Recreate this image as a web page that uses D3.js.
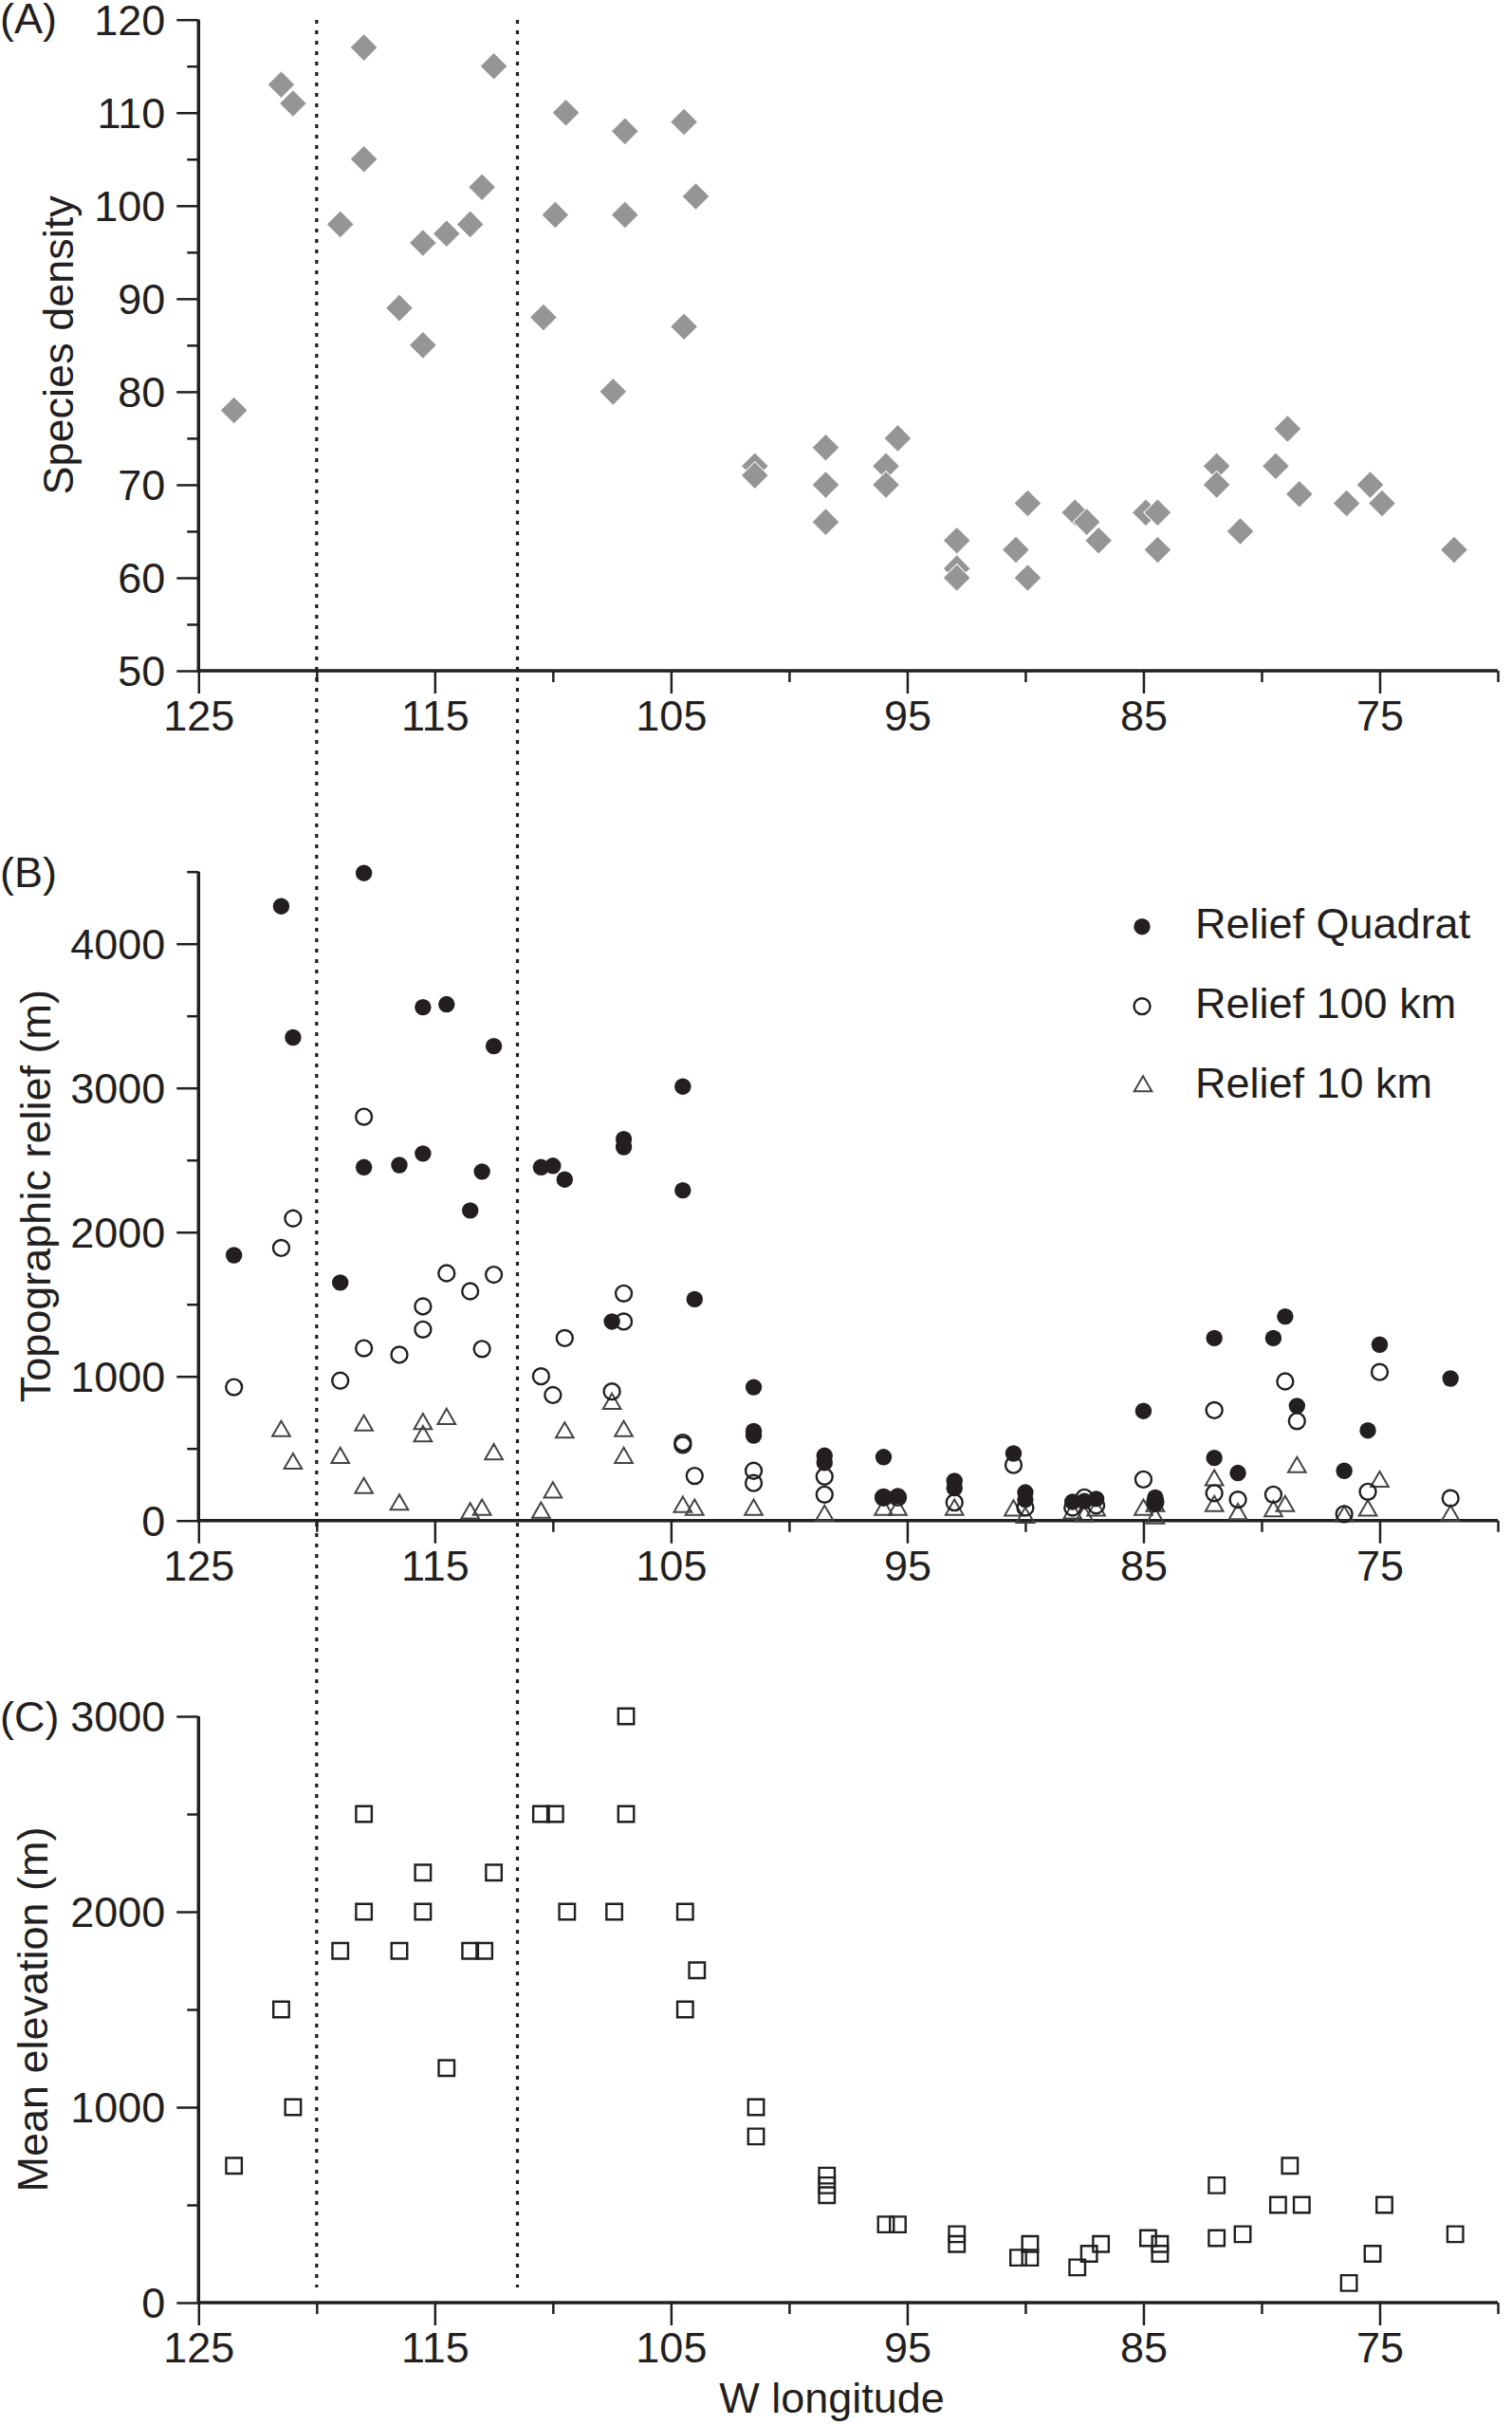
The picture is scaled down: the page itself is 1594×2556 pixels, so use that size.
<!DOCTYPE html>
<html>
<head>
<meta charset="utf-8">
<script src="https://cdn.jsdelivr.net/npm/d3@7"></script>
<style>
  body { margin: 0; background: #fff; }
  svg { display: block; }
  text { font-family: "Liberation Sans", Arial, Helvetica, sans-serif; }
</style>
</head>
<body>
<svg id="chart" width="1594" height="2556"></svg>
<script>
// ---------------- DATA ----------------
// Panel A: species density  [W longitude, value]
const speciesDensity = [
  [123.5,78],[121.5,113],[121,111],[118,117],[118,105],[119,98],[116.5,89],[115.5,85],[115.5,96],
  [114.5,97],[113.5,98],[113,102],[112.5,115],[110.4,88],[109.9,99],[109.45,110],[107.45,80],
  [106.95,108],[106.95,99],[104.45,109],[103.95,101],[104.45,87],[101.45,72],[101.45,71],
  [98.45,74],[98.45,70],[98.45,66],[95.9,72],[95.9,70],[95.4,75],[92.9,64],[92.9,61],[92.9,60],
  [90.4,63],[89.9,68],[89.9,60],[87.9,67],[87.4,66],[86.9,64],[84.9,67],[84.4,67],[84.4,63],
  [81.9,72],[81.9,70],[80.9,65],[79.4,72],[78.9,76],[78.4,69],[76.4,68],[75.4,70],[74.9,68],[71.85,63]
];
// Panel B: topographic relief (m)
const reliefQuadrat = [
  [123.5,1840],[121.5,4260],[121,3350],[118,4490],[118,2450],[119,1650],[116.5,2465],[115.5,3560],
  [115.5,2545],[114.5,3580],[113.5,2150],[113,2420],[112.5,3290],[110.5,2450],[110,2460],[109.5,2365],
  [107.5,1380],[107,2645],[107,2590],[104.5,3010],[104.5,2290],[104,1535],[101.5,925],[101.5,620],
  [101.5,590],[98.5,450],[98.5,400],[96,440],[96,160],[95.4,170],[93,275],[93,225],[90.5,465],
  [90,195],[90,145],[88,130],[87.5,135],[87,150],[85,760],[84.5,160],[84.5,115],[82,1265],[82,435],
  [81,330],[79.5,1265],[79,1415],[78.5,795],[76.5,345],[75.5,625],[75,1220],[72,985]
];
const relief100km = [
  [123.5,925],[121.5,1890],[121,2095],[118,2800],[118,1195],[119,970],[116.5,1150],[115.5,1485],
  [115.5,1325],[114.5,1715],[113.5,1590],[113,1190],[112.5,1705],[110.5,1000],[110,870],[109.5,1265],
  [107.5,895],[107,1575],[107,1380],[104.5,540],[104.5,525],[104,310],[101.5,345],[101.5,260],
  [98.5,305],[98.5,180],[96,160],[95.4,160],[93,125],[90.5,385],[90,90],[88,90],[87.5,160],[87,105],
  [85,285],[84.5,130],[82,765],[82,190],[81,145],[79.5,180],[79,965],[78.5,690],[76.5,45],[75.5,200],
  [75,1030],[72,155]
];
const relief10km = [
  [121.5,620],[121,395],[118,660],[118,225],[119,435],[116.5,110],[115.5,670],[115.5,585],[114.5,705],
  [113.5,50],[113,75],[112.5,460],[110.5,55],[110,195],[109.5,610],[107.5,810],[107,620],[107,435],
  [104.5,95],[104,75],[101.5,75],[98.5,35],[96,75],[95.4,75],[93,75],[90.5,70],[90,20],[88,50],
  [87.5,30],[87,70],[85,75],[84.5,100],[84.5,15],[82,280],[82,100],[81,45],[79.5,65],[79,100],
  [78.5,370],[76.5,30],[75.5,70],[75,270],[72,35]
];
// Panel C: mean elevation (m)
const meanElevation = [
  [123.5,700],[121.5,1500],[121,1000],[118,2500],[118,2000],[119,1800],[116.5,1800],[115.5,2200],
  [115.5,2000],[114.5,1200],[113.5,1800],[112.9,1800],[112.5,2200],[110.5,2500],[109.9,2500],
  [109.4,2000],[107.4,2000],[106.9,3000],[106.9,2500],[104.4,2000],[104.4,1500],[103.9,1700],
  [101.4,1000],[101.4,850],[98.4,650],[98.4,600],[98.4,550],[95.9,400],[95.4,400],[92.9,350],
  [92.9,300],[90.3,230],[89.8,300],[89.8,230],[87.8,180],[87.3,250],[86.8,300],[84.8,330],[84.3,300],
  [84.3,250],[81.9,600],[81.9,330],[80.8,350],[79.3,500],[78.8,700],[78.3,500],[76.3,100],[75.3,250],
  [74.8,500],[71.8,350]
];
// Ticks / labels
const xMajorTicks = [125,115,105,95,85,75];
const xMinorTicks = [120,110,100,90,80,70];
const aMajorTicks = [50,60,70,80,90,100,110,120];
const aMinorTicks = [55,65,75,85,95,105,115];
const bMajorTicks = [0,1000,2000,3000,4000];
const bMinorTicks = [500,1500,2500,3500,4500];
const cMajorTicks = [0,1000,2000,3000];
const cMinorTicks = [500,1500,2500];
const dividerLongitudes = [120,111.5];
const legendLabels = ["Relief Quadrat","Relief 100 km","Relief 10 km"];
const panelLabels = ["(A)","(B)","(C)"];
const yTitles = ["Species density","Topographic relief (m)","Mean elevation (m)"];
const xTitle = "W longitude";

// ---------------- DRAW ----------------
const INK = "#231f20";
const svg = d3.select("#chart");
const x = d3.scaleLinear().domain([125,70]).range([209.3,1579]);
const yA = d3.scaleLinear().domain([50,120]).range([707,20.7]);
const yB = d3.scaleLinear().domain([0,4500]).range([1602.7,918.7]);
const yC = d3.scaleLinear().domain([0,3000]).range([2427,1809]);

// dotted dividers spanning all panels
svg.append("g").selectAll("line").data(dividerLongitudes).join("line")
  .attr("x1", d => x(d)).attr("x2", d => x(d))
  .attr("y1", 21).attr("y2", 2411)
  .attr("stroke", INK).attr("stroke-width", 3.2)
  .attr("stroke-dasharray", "4,7");

function drawAxes(y, major, minor, yTitle, titleX, panelLabel, labelY) {
  const g = svg.append("g").style("color", INK);
  const y0 = y.range()[0], y1 = y.range()[1];
  // y axis
  const ga = g.append("g").attr("transform", `translate(${x.range()[0]},0)`);
  ga.call(d3.axisLeft(y).tickValues(major).tickSize(23).tickPadding(12).tickSizeOuter(0).tickFormat(d3.format("d")));
  ga.append("g").call(d3.axisLeft(y).tickValues(minor).tickSize(12).tickSizeOuter(0).tickFormat(""));
  ga.selectAll(".domain").remove();
  ga.selectAll("line").attr("stroke-width", 2.5);
  ga.selectAll("text").attr("font-size", 45).attr("dy", "0.34em");
  // x axis
  const gx = g.append("g").attr("transform", `translate(0,${y0})`);
  gx.call(d3.axisBottom(x).tickValues(xMajorTicks).tickSize(24).tickPadding(7).tickSizeOuter(0).tickFormat(d3.format("d")));
  gx.append("g").call(d3.axisBottom(x).tickValues(xMinorTicks).tickSize(12).tickSizeOuter(0).tickFormat(""));
  gx.selectAll(".domain").remove();
  gx.selectAll("line").attr("stroke-width", 2.5);
  gx.selectAll("text").attr("font-size", 45);
  // domain lines
  g.append("line").attr("x1", x.range()[0]).attr("x2", x.range()[0]).attr("y1", y1).attr("y2", y0 + 1.7)
    .attr("stroke", INK).attr("stroke-width", 3.5);
  g.append("line").attr("x1", x.range()[0]).attr("x2", x.range()[1]).attr("y1", y0).attr("y2", y0)
    .attr("stroke", INK).attr("stroke-width", 3.5);
  // titles
  g.append("text").attr("transform", `translate(${titleX},${(y0 + y1) / 2}) rotate(-90)`)
    .attr("text-anchor", "middle").attr("font-size", 45).attr("fill", INK).text(yTitle);
  g.append("text").attr("x", 0).attr("y", labelY).attr("font-size", 45).attr("fill", INK).text(panelLabel);
}

drawAxes(yA, aMajorTicks, aMinorTicks, yTitles[0], 77, panelLabels[0], 35);
drawAxes(yB, bMajorTicks, bMinorTicks, yTitles[1], 53, panelLabels[1], 935);
drawAxes(yC, cMajorTicks, cMinorTicks, yTitles[2], 50, panelLabels[2], 1825);

svg.append("text").attr("x", 877).attr("y", 2543).attr("text-anchor", "middle")
  .attr("font-size", 45).attr("fill", INK).text(xTitle);

// symbols
const diamond = d3.symbol().type(d3.symbolSquare).size(420)();
const circle = d3.symbol().type(d3.symbolCircle).size(238)();
const ring = d3.symbol().type(d3.symbolCircle).size(225)();
const tri = d3.symbol().type(d3.symbolTriangle).size(150)();
const square = d3.symbol().type(d3.symbolSquare).size(272)();

// Panel A diamonds
svg.append("g").selectAll("path").data(speciesDensity).join("path")
  .attr("d", diamond)
  .attr("transform", d => `translate(${x(d[0])},${yA(d[1])}) rotate(45)`)
  .attr("fill", "#959595").attr("stroke", "#fff").attr("stroke-width", 1);

// Panel B
svg.append("g").selectAll("path").data(relief10km).join("path")
  .attr("d", tri)
  .attr("transform", d => `translate(${x(d[0])},${yB(d[1])})`)
  .attr("fill", "none").attr("stroke", "#444").attr("stroke-width", 2);
svg.append("g").selectAll("path").data(relief100km).join("path")
  .attr("d", ring)
  .attr("transform", d => `translate(${x(d[0])},${yB(d[1])})`)
  .attr("fill", "none").attr("stroke", INK).attr("stroke-width", 2.4);
svg.append("g").selectAll("path").data(reliefQuadrat).join("path")
  .attr("d", circle)
  .attr("transform", d => `translate(${x(d[0])},${yB(d[1])})`)
  .attr("fill", INK);

// legend
const legendYs = [976.7, 1060.7, 1145];
const lg = svg.append("g");
lg.append("path").attr("d", circle).attr("transform", `translate(1204,${legendYs[0]})`).attr("fill", INK);
lg.append("path").attr("d", ring).attr("transform", `translate(1204,${legendYs[1]})`).attr("fill", "none").attr("stroke", INK).attr("stroke-width", 2.4);
lg.append("path").attr("d", tri).attr("transform", `translate(1205,${legendYs[2]})`).attr("fill", "none").attr("stroke", "#444").attr("stroke-width", 2);
lg.selectAll("text").data(legendLabels).join("text")
  .attr("x", 1260).attr("y", (d, i) => legendYs[i] + 12)
  .attr("font-size", 45).attr("fill", INK).text(d => d);

// Panel C squares
svg.append("g").selectAll("path").data(meanElevation).join("path")
  .attr("d", square)
  .attr("transform", d => `translate(${x(d[0])},${yC(d[1])})`)
  .attr("fill", "none").attr("stroke", INK).attr("stroke-width", 2.4);
</script>
</body>
</html>
